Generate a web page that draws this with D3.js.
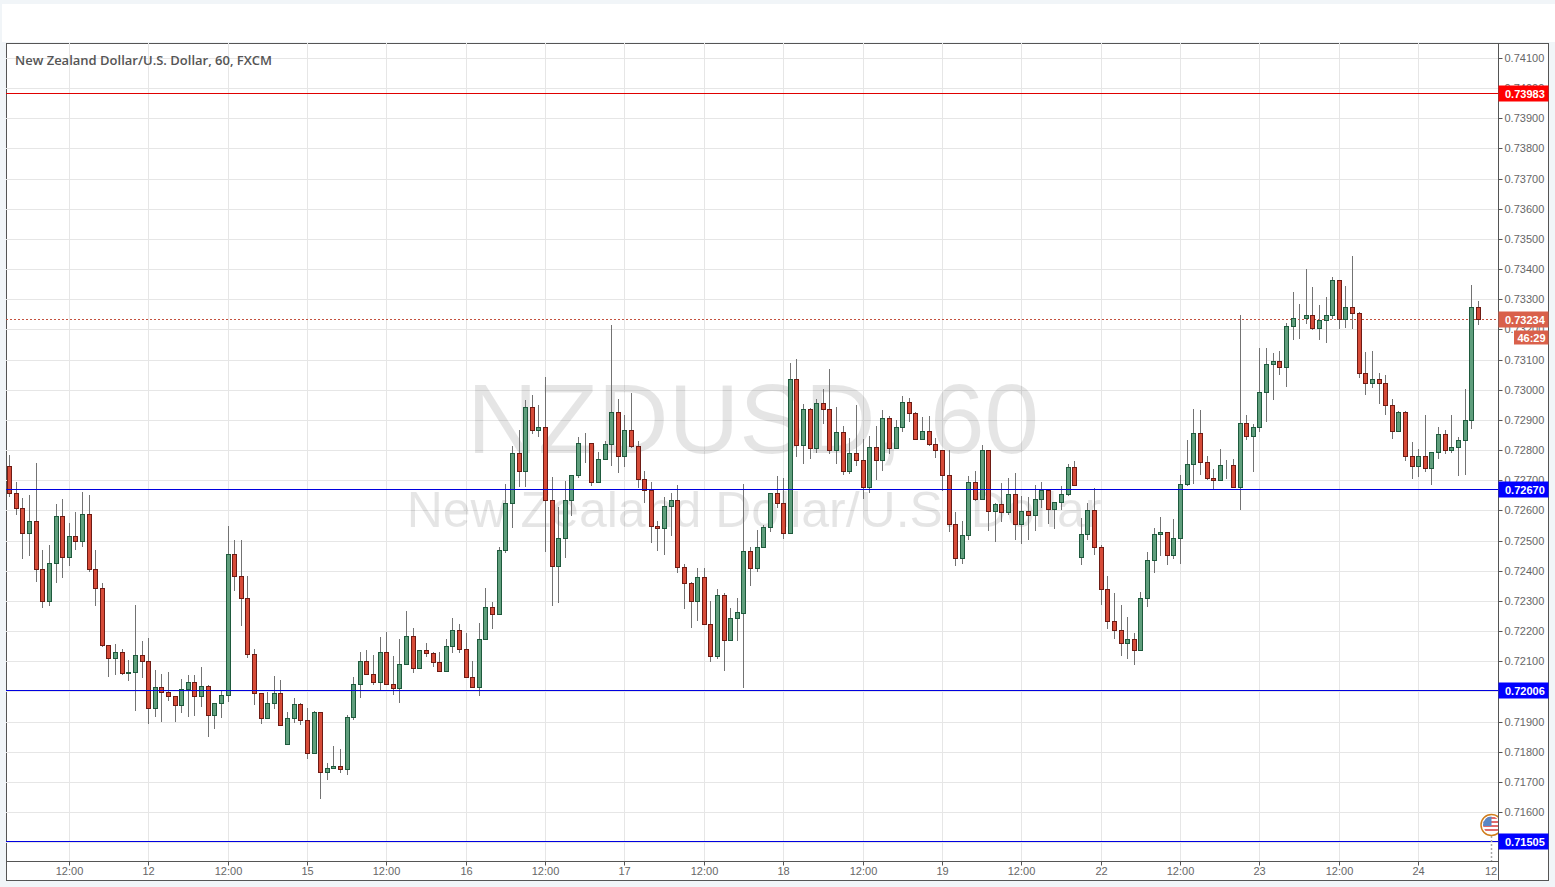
<!DOCTYPE html>
<html><head><meta charset="utf-8">
<script src="https://cdn.jsdelivr.net/npm/d3@7"></script>
<style>
html,body{margin:0;padding:0;background:#f1f5f8;overflow:hidden}
svg{display:block}
text{font-family:"Liberation Sans",Arial,sans-serif}
</style></head><body><svg id="c" width="1555" height="887"></svg>
<script>
const opens=[.72748,.72659,.72609,.72526,.72566,.72407,.72298,.72427,.72583,.72447,
.72516,.72500,.72589,.72407,.72344,.72154,.72112,.72129,.72062,.72065,
.72119,.72102,.71946,.72016,.71999,.71986,.71956,.72009,.72032,.71986,
.72019,.71923,.71963,.71989,.72457,.72384,.72311,.72125,.71996,.71913,
.71963,.71996,.71827,.71913,.71959,.71906,.71794,.71933,.71731,.71747,
.71754,.71741,.71916,.72026,.72102,.72056,.72032,.72132,.72023,.72010,
.72092,.72182,.72079,.72136,.72126,.72096,.72066,.72152,.72205,.72142,
.72049,.72013,.72175,.72281,.72258,.72470,.72623,.72789,.72729,.72944,
.72868,.72878,.72633,.72417,.72510,.72636,.72716,.72825,.72822,.72693,
.72769,.72819,.72925,.72782,.72868,.72815,.72703,.72666,.72547,.72540,
.72613,.72633,.72411,.72358,.72298,.72378,.72225,.72116,.72321,.72169,
.72242,.72261,.72467,.72410,.72477,.72546,.72659,.72626,.72526,.73037,
.72818,.72937,.72808,.72957,.72937,.72801,.72861,.72732,.72791,.72768,
.72679,.72811,.72768,.72907,.72808,.72878,.72960,.72924,.72838,.72864,
.72821,.72801,.72718,.72556,.72443,.72520,.72695,.72639,.72801,.72599,
.72622,.72596,.72656,.72556,.72599,.72586,.72639,.72666,.72606,.72629,
.72656,.72745,.72447,.72523,.72600,.72477,.72341,.72232,.72202,.72159,
.72175,.72136,.72311,.72434,.72523,.72527,.72451,.72507,.72689,.72755,
.72855,.72759,.72709,.72702,.72752,.72752,.72679,.72891,.72848,.72878,
.72991,.73087,.73094,.73074,.73210,.73239,.73237,.73249,.73206,.73230,
.73249,.73365,.73236,.73276,.73256,.73054,.73021,.73037,.73021,.72948,
.72862,.72925,.72779,.72746,.72782,.72739,.72792,.72852,.72799,.72809,
.72832,.72901,.73273];
const closes=[.72659,.72609,.72526,.72566,.72407,.72298,.72427,.72583,.72447,.72516,
.72500,.72589,.72407,.72344,.72154,.72112,.72129,.72062,.72065,.72119,
.72102,.71946,.72016,.71999,.71986,.71956,.72009,.72032,.71986,.72019,
.71923,.71963,.71989,.72457,.72384,.72311,.72125,.71996,.71913,.71963,
.71996,.71890,.71913,.71959,.71906,.71794,.71933,.71731,.71747,.71754,
.71741,.71916,.72026,.72102,.72056,.72032,.72132,.72023,.72010,.72092,
.72182,.72079,.72136,.72126,.72096,.72066,.72152,.72205,.72142,.72049,
.72013,.72175,.72281,.72258,.72470,.72623,.72789,.72729,.72944,.72868,
.72878,.72633,.72417,.72510,.72636,.72716,.72825,.72822,.72693,.72769,
.72819,.72925,.72782,.72868,.72815,.72703,.72666,.72547,.72540,.72613,
.72633,.72411,.72358,.72298,.72378,.72225,.72116,.72321,.72169,.72242,
.72262,.72467,.72410,.72477,.72546,.72659,.72626,.72526,.73037,.72818,
.72937,.72808,.72957,.72937,.72801,.72861,.72732,.72791,.72768,.72679,
.72811,.72768,.72907,.72808,.72878,.72960,.72924,.72838,.72864,.72821,
.72801,.72718,.72556,.72443,.72520,.72695,.72639,.72801,.72599,.72622,
.72596,.72656,.72556,.72599,.72586,.72639,.72666,.72606,.72629,.72656,
.72745,.72685,.72523,.72600,.72477,.72341,.72232,.72202,.72159,.72175,
.72136,.72311,.72434,.72523,.72527,.72451,.72507,.72689,.72755,.72855,
.72759,.72709,.72702,.72752,.72751,.72679,.72891,.72848,.72878,.72991,
.73087,.73094,.73074,.73210,.73239,.73237,.73249,.73206,.73230,.73249,
.73365,.73236,.73276,.73256,.73054,.73021,.73037,.73021,.72948,.72862,
.72925,.72779,.72746,.72782,.72739,.72792,.72852,.72799,.72809,.72832,
.72901,.73273,.73234];
const highs=[.72783,.72693,.72640,.72650,.72756,.72468,.72484,.72620,.72637,.72557,
.72594,.72660,.72650,.72468,.72358,.72154,.72156,.72140,.72103,.72285,
.72166,.72176,.72070,.72057,.72063,.71986,.72040,.72053,.72053,.72080,
.72022,.71963,.72004,.72547,.72501,.72501,.72382,.72140,.71996,.71997,
.72050,.72037,.71930,.71977,.71963,.71944,.71936,.71933,.71764,.71818,
.71808,.71921,.72046,.72132,.72136,.72120,.72180,.72196,.72116,.72173,
.72265,.72209,.72136,.72162,.72129,.72132,.72175,.72242,.72222,.72193,
.72102,.72228,.72344,.72295,.72480,.72689,.72815,.72865,.72965,.72981,
.72951,.73041,.72712,.72610,.72699,.72716,.72843,.72858,.72822,.72792,
.72829,.73214,.72968,.72915,.72989,.72829,.72732,.72693,.72564,.72646,
.72659,.72683,.72421,.72364,.72409,.72409,.72299,.72341,.72325,.72278,
.72311,.72689,.72477,.72536,.72550,.72659,.72713,.72709,.73088,.73103,
.72954,.72941,.72970,.73004,.73070,.72944,.72881,.72841,.72951,.72838,
.72848,.72881,.72934,.72914,.72901,.72980,.72974,.72927,.72911,.72914,
.72841,.72801,.72801,.72596,.72566,.72715,.72732,.72818,.72801,.72626,
.72692,.72709,.72725,.72649,.72646,.72685,.72695,.72669,.72629,.72682,
.72755,.72765,.72576,.72623,.72673,.72484,.72384,.72326,.72286,.72246,
.72193,.72328,.72462,.72540,.72578,.72530,.72573,.72716,.72835,.72936,
.72932,.72779,.72737,.72802,.72768,.72769,.73249,.72916,.72888,.73140,
.73137,.73123,.73127,.73220,.73323,.73283,.73400,.73340,.73280,.73306,
.73373,.73365,.73343,.73443,.73259,.73125,.73128,.73057,.73050,.72971,
.72928,.72931,.72828,.72805,.72916,.72792,.72878,.72865,.72916,.72842,
.73004,.73347,.73294];
const lows=[.72648,.72588,.72441,.72452,.72365,.72279,.72285,.72362,.72378,.72418,
.72471,.72481,.72398,.72285,.72150,.72050,.72057,.72057,.72037,.71937,
.72047,.71894,.71917,.71901,.71970,.71901,.71931,.71917,.71921,.71951,
.71851,.71878,.71914,.71967,.72335,.72219,.72113,.71957,.71894,.71913,
.71944,.71890,.71827,.71898,.71891,.71778,.71794,.71646,.71709,.71747,
.71731,.71725,.71908,.71980,.72056,.72024,.72007,.72023,.71992,.71965,
.72092,.72065,.72079,.72118,.72083,.72066,.72066,.72129,.72129,.72049,
.72013,.71988,.72175,.72210,.72258,.72463,.72545,.72681,.72681,.72856,
.72847,.72465,.72286,.72296,.72445,.72584,.72710,.72759,.72685,.72693,
.72769,.72752,.72728,.72747,.72810,.72679,.72627,.72495,.72468,.72455,
.72518,.72395,.72276,.72213,.72236,.72225,.72100,.72112,.72070,.72169,
.72170,.72015,.72352,.72398,.72477,.72531,.72610,.72508,.72526,.72779,
.72756,.72773,.72794,.72889,.72789,.72756,.72720,.72723,.72750,.72640,
.72660,.72703,.72733,.72789,.72808,.72862,.72895,.72838,.72838,.72818,
.72776,.72667,.72531,.72418,.72425,.72504,.72633,.72639,.72534,.72497,
.72566,.72587,.72504,.72491,.72504,.72534,.72612,.72557,.72541,.72603,
.72652,.72685,.72422,.72505,.72455,.72289,.72210,.72177,.72120,.72110,
.72090,.72136,.72283,.72395,.72452,.72422,.72442,.72425,.72684,.72690,
.72720,.72704,.72673,.72702,.72706,.72679,.72604,.72836,.72730,.72863,
.72896,.72969,.73052,.73012,.73168,.73170,.73221,.73200,.73168,.73158,
.73238,.73204,.73207,.73204,.73042,.72985,.73009,.72955,.72919,.72840,
.72862,.72766,.72707,.72713,.72730,.72687,.72773,.72790,.72795,.72717,
.72720,.72873,.73217];
const priceTicks=[.741,.74,.739,.738,.737,.736,.735,.734,.733,.732,.731,.73,.729,.728,.727,.726,.725,.724,.723,.722,.721,.72,.719,.718,.717,.716,.715];
const timeTickBars=[9,21,33,45,57,69,81,93,105,117,129,141,153,165,177,189,201,213];
const timeTickLabels=["12:00","12","12:00","15","12:00","16","12:00","17","12:00","18","12:00","19","12:00","22","12:00","23","12:00","24"];
const eventBar=224, eventLabel="12";
const redLevels=[.73983], blueLevels=[.7267,.72006,.71505];
const lastPrice=.73234, countdown="46:29";
const titleText="New Zealand Dollar/U.S. Dollar, 60, FXCM";
const watermark1="NZDUSD, 60", watermark2="New Zealand Dollar/U.S. Dollar";

if(new Set([opens.length,closes.length,highs.length,lows.length]).size!==1) throw new Error("len "+[opens.length,closes.length,highs.length,lows.length]);

const svg=d3.select("#c");
const L=6,R=1498,T=43,B=861,OR=1548,OB=880;
const y=d3.scaleLinear().domain([.716,.741]).range([812,58]).interpolate(d3.interpolateRound);
const x=d3.scaleLinear().domain([9,213]).range([68.75,1418.2]).interpolate(d3.interpolateRound);
const fmt=d3.format(".5f");

svg.append("rect").attr("x",2).attr("y",4).attr("width",1553).attr("height",38).attr("fill","#fff");
svg.append("rect").attr("x",L+.5).attr("y",T+.5).attr("width",OR-L).attr("height",OB-T).attr("fill","#fff").attr("stroke","#555");

const defs=svg.append("defs");
defs.append("clipPath").attr("id","plot").append("rect").attr("x",L).attr("y",T).attr("width",R-L).attr("height",B-T);

const plot=svg.append("g").attr("clip-path","url(#plot)");
plot.append("g").selectAll("line").data(priceTicks).join("line")
 .attr("x1",L).attr("x2",R).attr("y1",d=>y(d)+.5).attr("y2",d=>y(d)+.5).attr("stroke","#e6e6e6");
plot.append("g").selectAll("line").data(timeTickBars).join("line")
 .attr("y1",T).attr("y2",B).attr("x1",d=>x(d)+.5).attr("x2",d=>x(d)+.5).attr("stroke","#e6e6e6");

plot.append("text").attr("x",753).attr("y",453).attr("text-anchor","middle").attr("font-size",98)
 .attr("fill","#000").attr("fill-opacity",.1).text(watermark1);
plot.append("text").attr("x",754).attr("y",527).attr("text-anchor","middle").attr("font-size",50)
 .attr("fill","#000").attr("fill-opacity",.1).text(watermark2);

plot.append("line").attr("x1",L).attr("x2",R).attr("y1",y(lastPrice)+.5).attr("y2",y(lastPrice)+.5)
 .attr("stroke","#c4523f").attr("stroke-dasharray","2,2");

const bars=d3.range(opens.length);
const candles=plot.append("g");
candles.selectAll("line").data(bars).join("line")
 .attr("x1",i=>x(i)+.5).attr("x2",i=>x(i)+.5)
 .attr("y1",i=>y(highs[i])).attr("y2",i=>y(lows[i])+1)
 .attr("stroke","#737373");
candles.selectAll("rect").data(bars).join("rect")
 .attr("x",i=>x(i)-1.5).attr("width",4)
 .attr("y",i=>y(Math.max(opens[i],closes[i]))+.5)
 .attr("height",i=>Math.max(0,y(Math.min(opens[i],closes[i]))-y(Math.max(opens[i],closes[i]))))
 .attr("fill",i=>closes[i]<opens[i]?"#d64b38":"#5f9e7c")
 .attr("stroke",i=>closes[i]<opens[i]?"#6e1b14":"#1e5a3d");

plot.append("g").selectAll("line").data(redLevels).join("line")
 .attr("x1",L).attr("x2",R).attr("y1",d=>y(d)+.5).attr("y2",d=>y(d)+.5).attr("stroke","#e00000");
plot.append("g").selectAll("line").data(blueLevels).join("line")
 .attr("x1",L).attr("x2",R).attr("y1",d=>y(d)+.5).attr("y2",d=>y(d)+.5).attr("stroke","#0000e0");

svg.append("text").attr("x",15).attr("y",65).attr("font-size",13).attr("font-weight",600)
 .style("font-family","'Open Sans'").attr("fill","#555").text(titleText);

const yAxis=d3.axisRight(y).tickValues(priceTicks).tickFormat(fmt).tickSize(4).tickPadding(2).offset(.5);
const gy=svg.append("g").attr("transform",`translate(${R+.5},0)`).call(yAxis);
gy.select(".domain").remove();
gy.selectAll("line").attr("stroke","#555");
gy.selectAll("text").attr("fill","#666").attr("font-size",11).style("font-family","'Liberation Sans'");

const xAxis=d3.axisBottom(x).tickValues(timeTickBars).tickFormat((d,i)=>timeTickLabels[i]).tickSize(4).tickPadding(2).offset(.5);
const gx=svg.append("g").attr("transform",`translate(0,${B+.5})`).call(xAxis);
gx.select(".domain").remove();
gx.selectAll("line").attr("stroke","#555");
gx.selectAll("text").attr("fill","#666").attr("font-size",11).style("font-family","'Liberation Sans'");
svg.append("text").attr("x",x(eventBar)).attr("y",875).attr("text-anchor","middle").attr("font-size",11).attr("fill","#666").text(eventLabel);

svg.append("line").attr("x1",R+.5).attr("x2",R+.5).attr("y1",T).attr("y2",OB).attr("stroke","#555");
svg.append("line").attr("x1",L).attr("x2",R+.5).attr("y1",B+.5).attr("y2",B+.5).attr("stroke","#555");

// event marker
const evX=x(eventBar)+.5, evY=825;
const ev=plot.append("g");
ev.append("line").attr("x1",evX).attr("x2",evX).attr("y1",836).attr("y2",B).attr("stroke","#aaa").attr("stroke-width",1.5).attr("stroke-dasharray","2,2");
ev.append("circle").attr("cx",evX).attr("cy",evY).attr("r",10.5).attr("fill","#fff").attr("stroke","#d07d1c").attr("stroke-width",1.5);
defs.append("clipPath").attr("id","flag").append("circle").attr("cx",evX).attr("cy",evY).attr("r",8.5);
const fl=ev.append("g").attr("clip-path","url(#flag)");
[-8,-4,0,4].forEach(d=>fl.append("rect").attr("x",evX-9).attr("y",evY+d).attr("width",18).attr("height",2).attr("fill","#e06b6b"));
fl.append("rect").attr("x",evX-9).attr("y",evY-9).attr("width",9).attr("height",10).attr("fill","#5b87c5");

function badge(v,bg,h){
 const c=y(v)+.5;
 svg.append("rect").attr("x",R+.5).attr("y",c-8).attr("width",OR-R).attr("height",16).attr("fill",bg);
 svg.append("text").attr("x",1505).attr("y",c+4).attr("font-size",11).attr("font-weight","bold").attr("fill","#fff").text(fmt(v));
}
redLevels.forEach(v=>badge(v,"#ff0000"));
blueLevels.forEach(v=>badge(v,"#0000ff"));
badge(lastPrice,"#d9604a");
svg.append("rect").attr("x",1514).attr("y",y(lastPrice)+11.5).attr("width",OR-1514+.5).attr("height",14).attr("fill","#d9604a");
svg.append("text").attr("x",1531.5).attr("y",y(lastPrice)+22.5).attr("text-anchor","middle").attr("font-size",11).attr("font-weight","bold").attr("fill","#fff").text(countdown);
</script></body></html>
